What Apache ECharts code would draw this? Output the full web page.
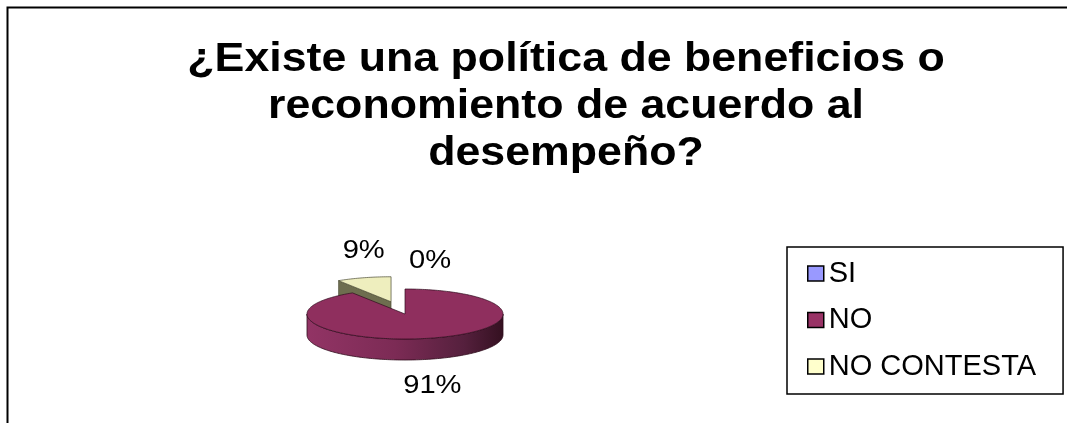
<!DOCTYPE html>
<html>
<head>
<meta charset="utf-8">
<script src="https://cdn.jsdelivr.net/npm/echarts@6/dist/echarts.min.js"></script>
<style>
  html, body { margin: 0; padding: 0; background: #ffffff; }
  #chart { width: 1067px; height: 423px; }
</style>
</head>
<body>
<div id="chart"></div>
<script>
// Survey answers (percent of respondents)
const titleLines = ['¿Existe una política de beneficios o', 'reconomiento de acuerdo al', 'desempeño?'];
const categories = ['SI', 'NO', 'NO CONTESTA'];
const values = [0, 91, 9];
const explodedSlices = ['NO CONTESTA'];

// Colours: legend swatch plus the shaded faces of the 3-D pie
const palette = {
  'SI':          { base: '#9999FF', top: '#9494f5', cut: '#5c5c99', edge: '#3a3a66',
                   wall: [{offset: 0, color: '#8f8fef'}, {offset: 1, color: '#34345a'}] },
  'NO':          { base: '#993366', top: '#8f2f5e', cut: '#5e1f3e', edge: '#2e0c1c',
                   wall: [{offset: 0, color: '#923465'}, {offset: 0.45, color: '#7c2b55'},
                          {offset: 0.8, color: '#55203d'}, {offset: 1, color: '#341020'}] },
  'NO CONTESTA': { base: '#FFFFCC', top: '#eeeebe', cut: '#6e6e4f', edge: '#4a4a33',
                   wall: [{offset: 0, color: '#d8d8aa'}, {offset: 1, color: '#6a6a4c'}] }
};

// Pie geometry (screen pixels): centre, radii of the tilted top face, wall height
const PIE = { cx: 405, cy: 314, rx: 98, ry: 25, depth: 21, explode: 50 };
const LABEL_PUSH = 28;

const total = values.reduce((a, b) => a + b, 0);
let acc = 0;
const slices = values.map(v => {
  const a0 = acc / total * Math.PI * 2;
  acc += v;
  const a1 = acc / total * Math.PI * 2;
  return { a0, a1 };
});

// back-to-front drawing order
const depthKey = categories.map((name, i) => {
  const mid = (slices[i].a0 + slices[i].a1) / 2;
  return -Math.cos(mid) + (explodedSlices.includes(name) ? -0.5 : 0);
});
const order = depthKey.map((k, i) => i).sort((a, b) => depthKey[a] - depthKey[b]);
const zOf = {};
order.forEach((idx, rank) => { zOf[idx] = 2 + rank; });

const labelFont = '26px "Liberation Sans", Arial, sans-serif';

function renderSlice(i, api) {
  const v = api.value(0);
  const s = slices[i];
  const name = categories[i];
  const shade = palette[name];
  const span = s.a1 - s.a0;
  const mid = (s.a0 + s.a1) / 2;
  const d = explodedSlices.includes(name) ? PIE.explode : 0;
  const ox = d * Math.sin(mid);
  const oy = -d * Math.cos(mid) * PIE.ry / PIE.rx;
  const P = (t, dz) => [PIE.cx + ox + PIE.rx * Math.sin(t), PIE.cy + oy - PIE.ry * Math.cos(t) + dz];
  const C = dz => [PIE.cx + ox, PIE.cy + oy + dz];
  const arc = (t0, t1, dz) => {
    const n = Math.max(2, Math.ceil((t1 - t0) / 0.02));
    const pts = [];
    for (let k = 0; k <= n; k++) pts.push(P(t0 + (t1 - t0) * k / n, dz));
    return pts;
  };
  const children = [];
  if (span > 0) {
    const cut = t => [C(0), P(t, 0), P(t, PIE.depth), C(PIE.depth)];
    const cutStyle = { fill: shade.cut, stroke: shade.edge, lineWidth: 0.6 };
    if (Math.sin(s.a0) < -1e-6) children.push({ type: 'polygon', shape: { points: cut(s.a0) }, style: cutStyle });
    if (Math.sin(s.a1) > 1e-6) children.push({ type: 'polygon', shape: { points: cut(s.a1) }, style: cutStyle });
    // outer wall, front half only
    const w0 = Math.max(s.a0, Math.PI / 2);
    const w1 = Math.min(s.a1, Math.PI * 1.5);
    if (w1 > w0) {
      const pts = arc(w0, w1, 0).concat(arc(w0, w1, PIE.depth).reverse());
      children.push({
        type: 'polygon', shape: { points: pts },
        style: { fill: new echarts.graphic.LinearGradient(0, 0, 1, 0, shade.wall), stroke: shade.edge, lineWidth: 0.8 }
      });
    }
    children.push({
      type: 'polygon', shape: { points: [C(0)].concat(arc(s.a0, s.a1, 0)) },
      style: { fill: shade.top, stroke: shade.edge, lineWidth: 0.7 }
    });
  }
  // percentage label outside the slice
  const cm = Math.cos(mid);
  const anchor = P(mid, cm < 0 ? PIE.depth : 0);
  const ly = anchor[1] - cm * LABEL_PUSH;
  const empty = span <= 0;
  children.push({
    type: 'text',
    x: empty ? anchor[0] + 4 : anchor[0],
    y: ly,
    scaleX: 1.12,
    z2: 10,
    style: {
      text: Math.round(v / total * 100) + '%',
      font: labelFont,
      fill: '#000000',
      textAlign: empty ? 'left' : 'center',
      textVerticalAlign: 'middle'
    }
  });
  return { type: 'group', children };
}

const chart = echarts.init(document.getElementById('chart'), null, { renderer: 'canvas' });

const titleFont = 'bold 41px "Liberation Sans", Arial, sans-serif';
const titleMiddles = [59.5, 106.5, 153.5];

chart.setOption({
  backgroundColor: '#ffffff',
  animation: false,
  legend: {
    orient: 'vertical',
    left: 787,
    top: 247,
    padding: [11.5, 27, 12.5, 20],
    itemWidth: 16,
    itemHeight: 15,
    itemGap: 16.5,
    icon: 'rect',
    borderColor: '#000000',
    borderWidth: 1.5,
    selectedMode: false,
    itemStyle: { borderColor: '#000000', borderWidth: 1.5 },
    textStyle: { fontFamily: '"Liberation Sans", Arial, sans-serif', fontSize: 29, color: '#000000', lineHeight: 30 },
    data: categories
  },
  graphic: [
    {
      type: 'polyline',
      shape: { points: [[7.5, 423], [7.5, 7.5], [1067, 7.5]] },
      style: { stroke: '#000000', lineWidth: 2, fill: null },
      silent: true
    }
  ].concat(titleLines.map((line, k) => ({
    type: 'text',
    x: 566,
    y: titleMiddles[k],
    scaleX: 1.09,
    silent: true,
    style: {
      text: line,
      font: titleFont,
      fill: '#000000',
      textAlign: 'center',
      textVerticalAlign: 'middle'
    }
  }))),
  series: categories.map((name, i) => ({
    type: 'custom',
    name: name,
    coordinateSystem: 'none',
    z: zOf[i],
    silent: true,
    itemStyle: { color: palette[name].base },
    data: [[values[i]]],
    renderItem: (params, api) => renderSlice(i, api)
  }))
});
</script>
</body>
</html>
